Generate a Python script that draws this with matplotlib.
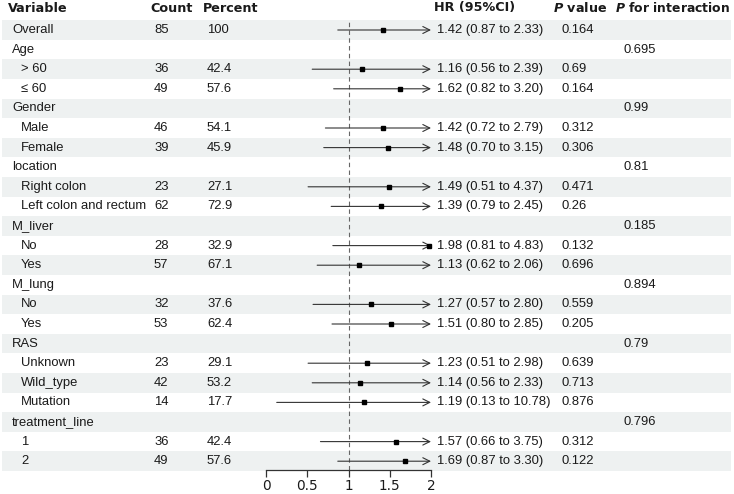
import numpy as np
import matplotlib.pyplot as plt

# subgroup forest plot
labels = ["Overall", "Age", "> 60", "≤ 60", "Gender", "Male", "Female",
          "location", "Right colon", "Left colon and rectum", "M_liver", "No", "Yes",
          "M_lung", "No", "Yes", "RAS", "Unknown", "Wild_type", "Mutation",
          "treatment_line", "1", "2"]
indent = [0, 0, 1, 1, 0, 1, 1, 0, 1, 1, 0, 1, 1, 0, 1, 1, 0, 1, 1, 1, 0, 1, 1]
count = ["85", "", "36", "49", "", "46", "39", "", "23", "62", "", "28", "57",
         "", "32", "53", "", "23", "42", "14", "", "36", "49"]
percent = ["100", "", "42.4", "57.6", "", "54.1", "45.9", "", "27.1", "72.9", "", "32.9", "67.1",
           "", "37.6", "62.4", "", "29.1", "53.2", "17.7", "", "42.4", "57.6"]
nan = np.nan
hr = [1.42, nan, 1.16, 1.62, nan, 1.42, 1.48, nan, 1.49, 1.39, nan, 1.98, 1.13,
      nan, 1.27, 1.51, nan, 1.23, 1.14, 1.19, nan, 1.57, 1.69]
lower = [0.87, nan, 0.56, 0.82, nan, 0.72, 0.70, nan, 0.51, 0.79, nan, 0.81, 0.62,
         nan, 0.57, 0.80, nan, 0.51, 0.56, 0.13, nan, 0.66, 0.87]
upper = [2.33, nan, 2.39, 3.20, nan, 2.79, 3.15, nan, 4.37, 2.45, nan, 4.83, 2.06,
         nan, 2.80, 2.85, nan, 2.98, 2.33, 10.78, nan, 3.75, 3.30]
pval = ["0.164", "", "0.69", "0.164", "", "0.312", "0.306", "", "0.471", "0.26", "", "0.132", "0.696",
        "", "0.559", "0.205", "", "0.639", "0.713", "0.876", "", "0.312", "0.122"]
p_inter = ["", "0.695", "", "", "0.99", "", "", "0.81", "", "", "0.185", "", "",
           "0.894", "", "", "0.79", "", "", "", "0.796", "", ""]
xticks = [0, 0.5, 1, 1.5, 2]

W, H = 734, 494
row0, step = 30, 19.6
txt = '#1a1a1a'
band = '#eef1f1'

fig = plt.figure(figsize=(W / 100, H / 100), dpi=100)

# background + table, laid out in pixel units
bg = fig.add_axes([0, 0, 1, 1])
bg.set_xlim(0, W)
bg.set_ylim(H, 0)
bg.axis('off')

n = len(labels)
for i in range(n):
    y = row0 + i * step
    if i % 2 == 0:
        bg.fill_between([2, 731], y - step / 2, y + step / 2, color=band, lw=0, zorder=0)
    tf = dict(fontsize=9.4, family='Liberation Sans', color=txt, va='center', ha='left')
    bg.text(21 if indent[i] else 12, y, labels[i], **tf)
    bg.text(154, y, count[i], **tf)
    bg.text(207, y, percent[i], **tf)
    if not np.isnan(hr[i]):
        bg.text(437, y, f"{hr[i]:.2f} ({lower[i]:.2f} to {upper[i]:.2f})", **tf)
    bg.text(562, y, pval[i], **tf)
    bg.text(624, y, p_inter[i], **tf)

hf = dict(fontsize=9.2, family='DejaVu Sans', weight='bold', color=txt, va='center', ha='left')
hy = 8
bg.text(8, hy, "Variable", **hf)
bg.text(150, hy, "Count", **hf)
bg.text(203, hy, "Percent", **hf)
bg.text(434, hy, "HR (95%CI)", **hf)
bg.text(553, hy, "$\\boldsymbol{P}$ value", **hf)
bg.text(615, hy, "$\\boldsymbol{P}$ for interaction", fontsize=8.9,
        **{k: v for k, v in hf.items() if k != 'fontsize'})

# forest axes: x in HR units, y in row index
x0, x1 = 266, 431
ybot, ytop = 470, 21
ax = fig.add_axes([x0 / W, (H - ybot) / H, (x1 - x0) / W, (ybot - ytop) / H])
ax.patch.set_alpha(0)
ax.set_xlim(0, 2)
ax.set_ylim((ybot - row0) / step, (ytop - row0) / step)
for s in ['top', 'right', 'left']:
    ax.spines[s].set_visible(False)
ax.spines['bottom'].set_color('#333333')
ax.spines['bottom'].set_linewidth(0.9)
ax.set_yticks([])
ax.set_xticks(xticks)
ax.set_xticklabels([f"{t:g}" for t in xticks], fontsize=9.8, family='DejaVu Sans', color=txt)
ax.tick_params(axis='x', length=5, width=0.9, color='#333333', pad=1.5)
ax.axvline(1, color='#666666', lw=0.8, ls=(0, (4, 3)), zorder=1)

for i in range(n):
    if np.isnan(hr[i]):
        continue
    hi = min(upper[i], 2)
    if upper[i] > 2:
        ax.annotate("", xy=(hi, i), xytext=(lower[i], i),
                    arrowprops=dict(arrowstyle='->,head_length=0.5,head_width=0.25',
                                    color='#333333', lw=0.8, shrinkA=0, shrinkB=0),
                    annotation_clip=False)
    else:
        ax.plot([lower[i], hi], [i, i], color='#333333', lw=0.8)
    ax.plot(hr[i], i, 's', ms=3.5, color='black', clip_on=False, zorder=3)

fig.savefig('out.png', dpi=100)
